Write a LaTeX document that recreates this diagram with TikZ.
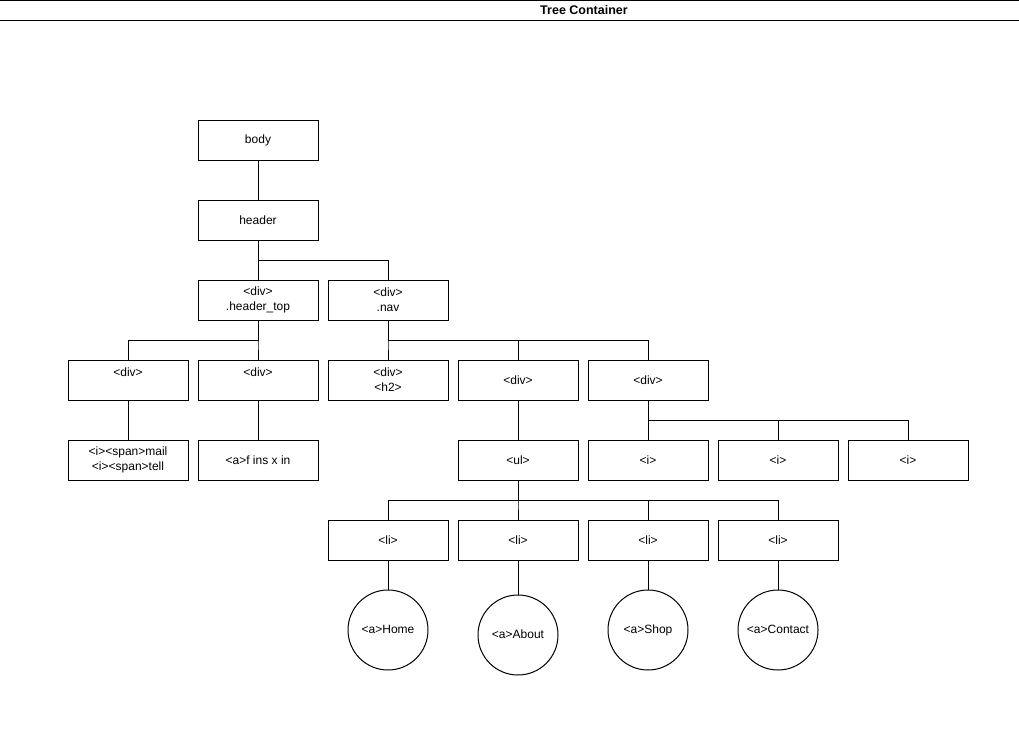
\documentclass[tikz,border=0pt]{standalone}
\usepackage{fontspec}
\setmainfont{Liberation Sans}
\usetikzlibrary{positioning}

\begin{document}
\begin{tikzpicture}[x=1pt, y=1pt, font=\fontsize{12}{15}\selectfont, line width=1pt,
  tag/.style={draw, minimum width=120pt, minimum height=40pt, inner sep=2pt, outer sep=0pt, align=center},
  link/.style={draw, circle, minimum size=80pt, inner sep=0pt, outer sep=0pt, text height=9pt, text depth=3pt}]

\useasboundingbox (0,0) rectangle (1019,-728);
\draw (0,-0.5) -- (1019,-0.5);
\draw (0,-20) -- (1019,-20);
\node(title)[font=\bfseries\fontsize{12.5}{15}\selectfont] at (584,-10.5){Tree Container};

\node(body)[tag] at (258,-140){body};
\node(header)[tag, below =40pt of body]{header};
\node(hdtop)[tag, below =40pt of header]{<div>\\.header\_top};
\node(nav)[tag, right =10pt of hdtop]{<div>\\.nav};

\node(divB)[tag, below =40pt of hdtop]{<div>\\~};
\node(divA)[tag, left =10pt of divB]{<div>\\~};
\node(h2div)[tag, right =10pt of divB]{<div>\\<h2>};
\node(uldiv)[tag, right =10pt of h2div]{<div>};
\node(icondiv)[tag, right =10pt of uldiv]{<div>};

\node(spans)[tag, below =40pt of divA]{<i><span>mail\\<i><span>tell};
\node(social)[tag, below =40pt of divB]{<a>f ins x in};
\node(ul)[tag, below =40pt of uldiv]{<ul>};
\node(iA)[tag, below =40pt of icondiv]{<i>};
\node(iB)[tag, right =10pt of iA]{<i>};
\node(iC)[tag, right =10pt of iB]{<i>};

\node(liB)[tag, below =40pt of ul]{<li>};
\node(liA)[tag, left =10pt of liB]{<li>};
\node(liC)[tag, right =10pt of liB]{<li>};
\node(liD)[tag, right =10pt of liC]{<li>};

\node(home)[link, below =30pt of liA]{<a>Home};
\node(about)[link, below =35pt of liB]{<a>About};
\node(shop)[link, below =30pt of liC]{<a>Shop};
\node(contact)[link, below =30pt of liD]{<a>Contact};

\draw (body)--(header);
\draw (header)--(hdtop);
\draw (header.south) -- ++(0,-20) -| (nav.north);

\foreach \x in {divA, divB}
	\draw (hdtop.south) -- ++(0,-20) -| (\x.north);
\foreach \x in {h2div, uldiv, icondiv}
	\draw (nav.south) -- ++(0,-20) -| (\x.north);

\draw (divA)--(spans);
\draw (divB)--(social);
\draw (uldiv)--(ul);

\foreach \x in {iA, iB, iC}
	\draw (icondiv.south) -- ++(0,-20) -| (\x.north);
\foreach \x in {liA, liB, liC, liD}
	\draw (ul.south) -- ++(0,-20) -| (\x.north);

\foreach \x/\y in {liA/home, liB/about, liC/shop, liD/contact}
	\draw (\x)--(\y);

\end{tikzpicture}
\end{document}
